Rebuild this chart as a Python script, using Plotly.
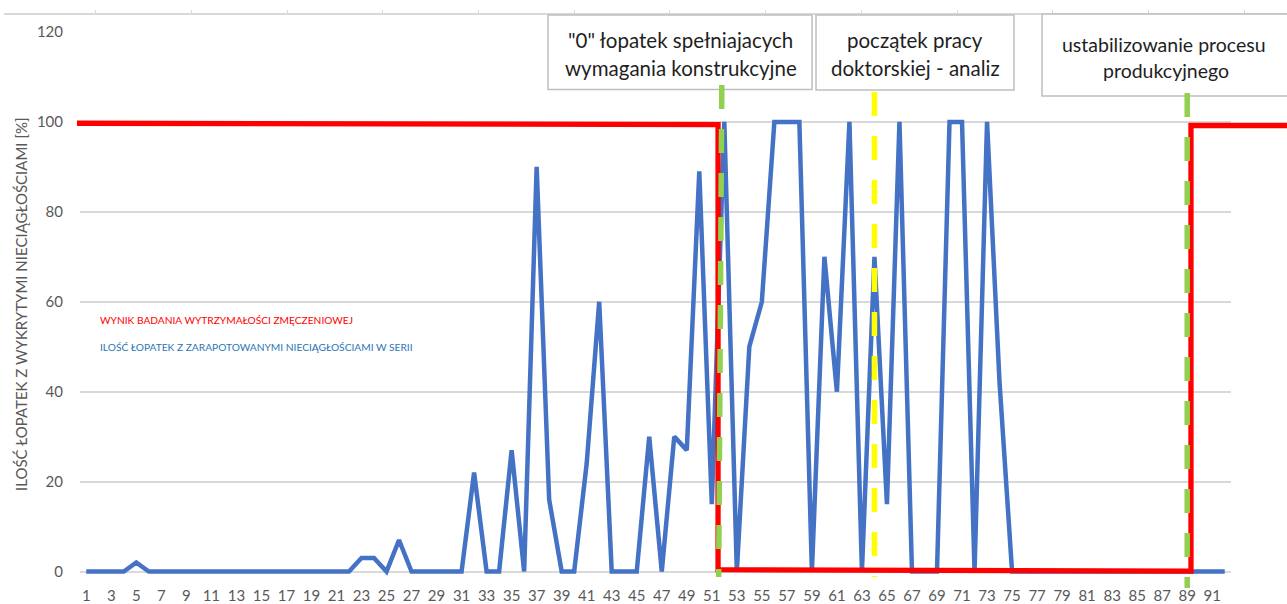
import plotly.graph_objects as go

# ---- data -------------------------------------------------------------
batch_no = list(range(1, 93))

# share of blades with detected (brazed) discontinuities in each batch [%]
discontinuity_pct = [
    0, 0, 0, 0, 2, 0, 0, 0, 0, 0,
    0, 0, 0, 0, 0, 0, 0, 0, 0, 0,
    0, 0, 3, 3, 0, 7, 0, 0, 0, 0,
    0, 22, 0, 0, 27, 0, 90, 16, 0, 0,
    24, 60, 0, 0, 0, 30, 0, 30, 27, 89,
    15, 100, 0, 50, 60, 100, 100, 100, 0, 70,
    40, 100, 0, 70, 15, 100, 0, 0, 0, 100,
    100, 0, 100, 42, 0, 0, 0, 0, 0, 0,
    0, 0, 0, 0, 0, 0, 0, 0, 0, 0,
    0, 0,
]

# fatigue strength test result (step curve, secondary axis)
fatigue_x = [0.26, 51.5, 51.5, 89.3, 89.3, 98.5]
fatigue_y = [99.7, 99.4, 0.4, 0.1, 99.2, 99.2]

# milestone markers: (batch at top, batch at bottom, colour)
milestones = [
    (51.8, 51.55, "#92D050"),
    (64.0, 64.0, "#FFFF00"),
    (89.0, 89.0, "#92D050"),
]

x_tick_labels = [str(v) for v in range(1, 93, 2)]
y_ticks = [0, 20, 40, 60, 80, 100, 120]

# ---- geometry helpers (pixel layout of the canvas) --------------------
W, H = 1287, 604
X_LEFT, X_RIGHT = 80, 1231          # plot area in px
Y_TOP, Y_ZERO, Y_BOTTOM = 32, 571.5, 580
N_CAT = len(batch_no)
PX_PER_CAT = (X_RIGHT - X_LEFT) / N_CAT
PX_PER_UNIT = (Y_ZERO - Y_TOP) / 120.0


def px_x(px):
    return px / W


def px_y(py):
    return 1 - py / H


def cat_at(px):
    return 0.5 + (px - X_LEFT) / PX_PER_CAT


FONT = "Lato, 'Open Sans', sans-serif"
GRID = "#D9D9D9"
TXT = "#595959"

y_low = -(Y_BOTTOM - Y_ZERO) / PX_PER_UNIT
y_domain = [px_y(Y_BOTTOM), px_y(Y_TOP)]

fig = go.Figure()

fig.add_trace(go.Scatter(
    x=batch_no, y=discontinuity_pct, mode="lines",
    line=dict(color="#4472C4", width=4.5),
    xaxis="x", yaxis="y", showlegend=False, hoverinfo="skip",
))

fig.add_trace(go.Scatter(
    x=fatigue_x, y=fatigue_y, mode="lines",
    line=dict(color="#FF0000", width=5.3),
    xaxis="x2", yaxis="y2", showlegend=False, hoverinfo="skip",
))

# ---- shapes: annotation boxes and milestone lines ---------------------
boxes = [
    (548, 812, 15, 89.5),
    (816, 1014, 15, 90),
    (1042, 1300, 14, 96),
]
shapes = []
for x0, x1, y0, y1 in boxes:
    shapes.append(dict(
        type="rect", xref="paper", yref="paper",
        x0=px_x(x0), x1=px_x(x1), y0=px_y(y0), y1=px_y(y1),
        fillcolor="white", line=dict(color="#BFBFBF", width=1.5),
        layer="above",
    ))

milestone_span = [(85, 577), (92, 577), (93, 588)]
for (xt, xb, col), (top, bot) in zip(milestones, milestone_span):
    shapes.append(dict(
        type="line", xref="x", yref="paper",
        x0=xt, x1=xb, y0=px_y(top), y1=px_y(bot),
        line=dict(color=col, width=5.5, dash="24px,20px"),
        layer="above",
    ))

# ---- text ---------------------------------------------------------------
annotations = []


def note(text, px, py, size, color, xanchor="center", angle=0):
    annotations.append(dict(
        text=text, xref="paper", yref="paper",
        x=px_x(px), y=px_y(py), xanchor=xanchor, yanchor="middle",
        showarrow=False, textangle=angle,
        font=dict(family=FONT, size=size, color=color),
    ))


BOX_TXT = "#1F1F1F"
BOX_SIZE = 20.5
note('"0" łopatek spełniajacych', 680, 40, BOX_SIZE, BOX_TXT)
note("wymagania konstrukcyjne", 681, 68, BOX_SIZE, BOX_TXT)
note("początek pracy", 915, 40, BOX_SIZE, BOX_TXT)
note("doktorskiej - analiz", 915, 68, BOX_SIZE, BOX_TXT)
note("ustabilizowanie procesu", 1164, 44, 19.5, BOX_TXT)
note("produkcyjnego", 1166, 70, 19.5, BOX_TXT)

note("WYNIK BADANIA WYTRZYMAŁOŚCI ZMĘCZENIOWEJ", 98, 320, 10.2,
     "#FF0000", xanchor="left")
note("ILOŚĆ ŁOPATEK Z ZARAPOTOWANYMI NIECIĄGŁOŚCIAMI W SERII", 98, 347, 10.2,
     "#2E75B6", xanchor="left")

note("ILOŚĆ ŁOPATEK Z WYKRYTYMI NIECIĄGŁOŚCIAMI [%]", 21, 304, 15,
     TXT, angle=-90)

fig.update_layout(
    width=W, height=H,
    margin=dict(l=0, r=0, t=0, b=0, pad=0),
    paper_bgcolor="white",
    plot_bgcolor="rgba(0,0,0,0)",
    showlegend=False,
    xaxis=dict(
        domain=[px_x(X_LEFT), px_x(X_RIGHT)],
        range=[0.5, N_CAT + 0.5],
        tickmode="array",
        tickvals=list(range(1, 93, 2)),
        ticktext=x_tick_labels,
        showgrid=False, zeroline=False, showline=False, ticks="",
        tickfont=dict(family=FONT, size=15, color=TXT),
        ticklabelstandoff=5,
        anchor="y", automargin=False,
    ),
    yaxis=dict(
        domain=y_domain,
        range=[y_low, 120],
        tickmode="array", tickvals=y_ticks,
        showgrid=True, gridcolor=GRID, gridwidth=1.5,
        zeroline=False, showline=False, ticks="",
        tickfont=dict(family=FONT, size=15, color=TXT),
        ticklabelstandoff=16,
        anchor="x", automargin=False,
    ),
    xaxis2=dict(
        domain=[px_x(4), 1],
        range=[cat_at(4), cat_at(W)],
        anchor="free", position=px_y(14), side="top",
        showline=True, linecolor=GRID, linewidth=1.5,
        ticks="outside", ticklen=3, tickcolor=GRID, tickwidth=1.3,
        tick0=cat_at(95.7), dtick=95.7 / PX_PER_CAT,
        showticklabels=False, showgrid=False, zeroline=False,
        automargin=False,
    ),
    yaxis2=dict(
        domain=y_domain,
        range=[y_low, 120],
        anchor="x2", visible=False, automargin=False,
    ),
    shapes=shapes,
    annotations=annotations,
)

fig.write_html("out.html")
